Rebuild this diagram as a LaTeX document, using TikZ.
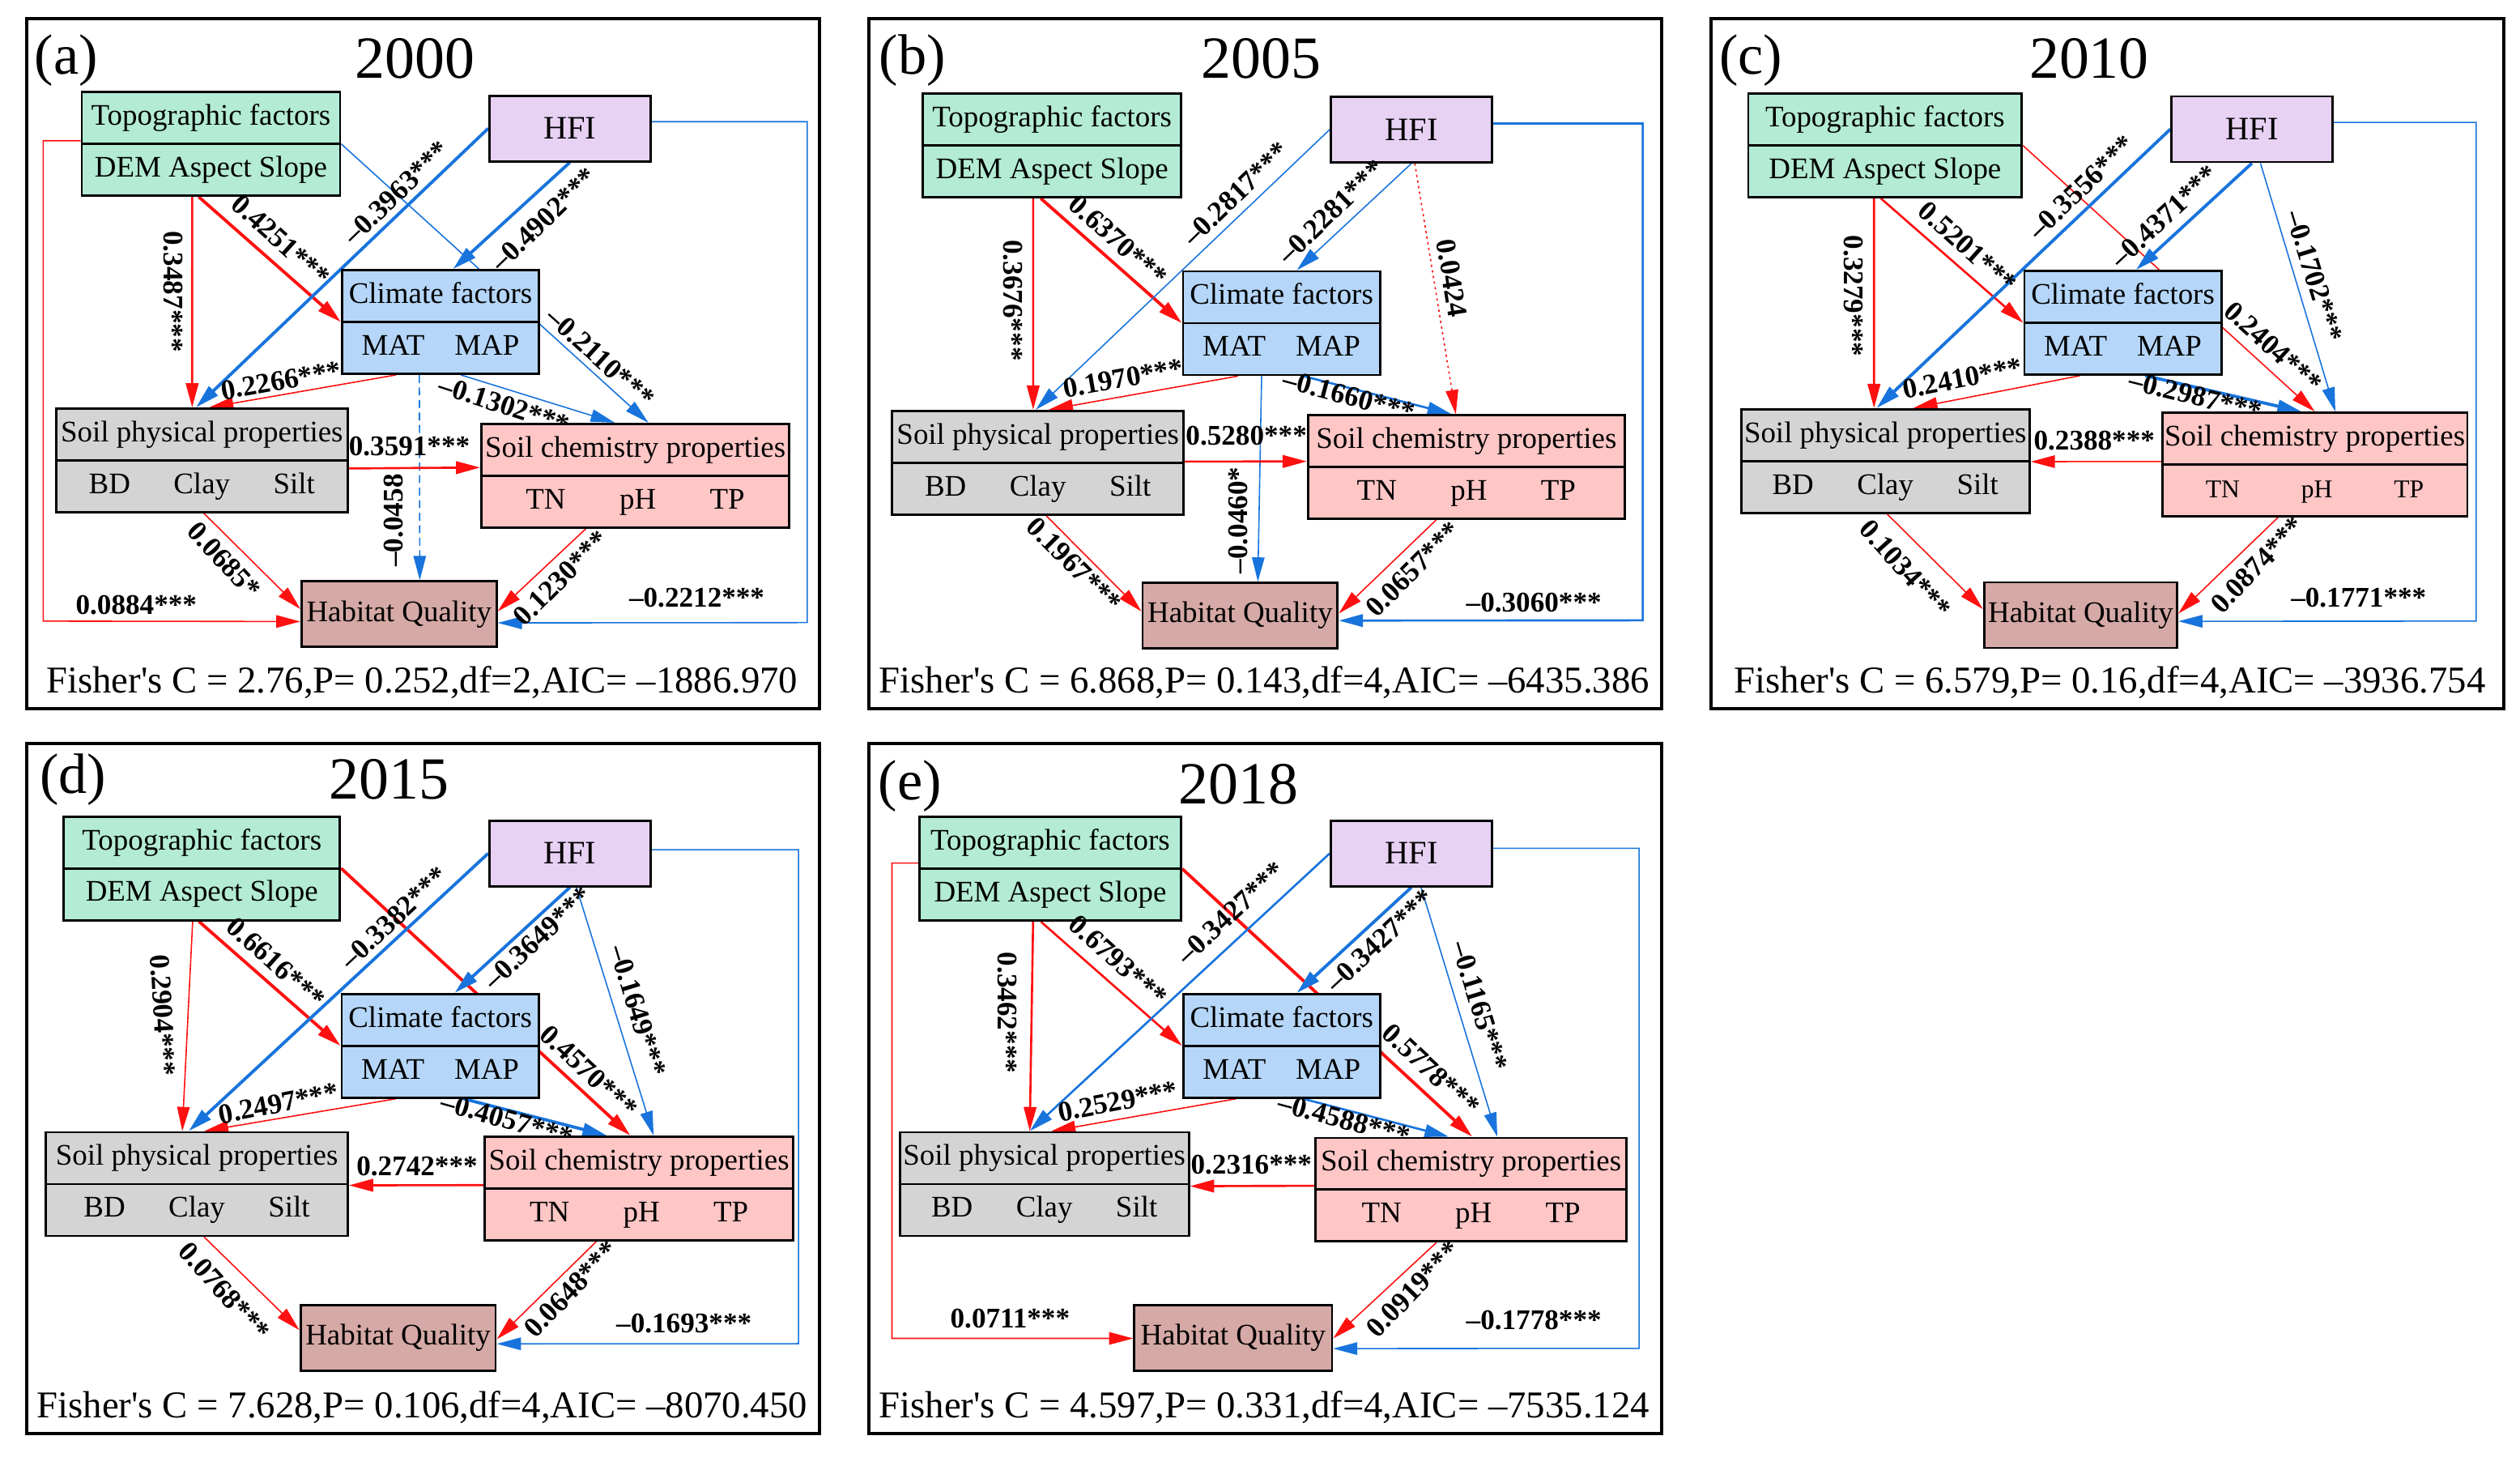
\documentclass[tikz,border=0pt]{standalone}
\usepackage{fontspec}
\setmainfont{Liberation Serif}
\usepackage{tikz}
\usetikzlibrary{arrows.meta, shapes.multipart, calc, backgrounds}
\definecolor{topofill}{HTML}{B3EBD5}
\definecolor{hfifill}{HTML}{E8D2F4}
\definecolor{climfill}{HTML}{B5D6F8}
\definecolor{physfill}{HTML}{D4D4D4}
\definecolor{chemfill}{HTML}{FFC6C6}
\definecolor{habfill}{HTML}{D5A9A6}
\definecolor{semred}{HTML}{FF1010}
\definecolor{semblue}{HTML}{1874DC}

\begin{document}
\begin{tikzpicture}[x=0.19847mm, y=-0.19847mm,
    twobox/.style={rectangle split, rectangle split parts=2, draw, line width=0.8pt,
      minimum width=#1, inner xsep=0pt, inner ysep=2.4pt, font=\fontsize{10.5}{12.6}\selectfont},
    onebox/.style={draw, line width=0.8pt, minimum width=#1, minimum height=8.1mm, inner sep=0pt},
    topobox/.style={twobox=#1, fill=topofill},
    climbox/.style={twobox=24.33mm, fill=climfill},
    physbox/.style={twobox=#1, fill=physfill},
    chembox/.style={twobox=#1, fill=chemfill},
    hfibox/.style={onebox=19.9mm, fill=hfifill, font=\fontsize{11.5}{13}\selectfont},
    habbox/.style={onebox=#1, fill=habfill, font=\fontsize{10.5}{12.6}\selectfont},
    panelframe/.style={draw, line width=1.1pt},
    tag/.style={font=\fontsize{20}{24}\selectfont},
    year/.style={font=\fontsize{21}{25}\selectfont},
    fisher/.style={font=\fontsize{13.3}{16}\selectfont},
    coef/.style={font=\fontsize{10}{12}\selectfont\bfseries, inner sep=0pt},
    semtip/.style={-{Triangle[length=8.5pt,width=4.4pt]}},
    redthin/.style={semtip, semred, line width=0.45pt},
    redmid/.style={semtip, semred, line width=0.75pt},
    redthick/.style={semtip, semred, line width=1.1pt},
    bluethin/.style={semtip, semblue, line width=0.45pt},
    bluemid/.style={semtip, semblue, line width=0.75pt},
    bluethick/.style={semtip, semblue, line width=1.1pt}]
\useasboundingbox (0,0) rectangle (1568,914);

\begin{scope}[shift={(16.6,11.4)}]
    \draw[panelframe] (0,0) rectangle (493.5,429.5);
    \node[tag] (tagA) at (24.7,26.3) {(a)};
    \node[year] (yearA) at (241.6,25) {2000};
    \node[topobox=31.89mm] (topoA) at (114.65,78.1) {\strut Topographic factors\nodepart{two}\strut DEM Aspect Slope};
    \node[hfibox] (hfiA) at (338,68.5) {HFI};
    \node[climbox] (climA) at (257.5,188.9) {\strut Climate factors\nodepart{two}\strut MAT\quad MAP};
    \node[physbox=36.02mm] (physA) at (109,275) {\strut Soil physical properties\nodepart{two}\strut BD\hspace{1.45em}Clay\hspace{1.45em}Silt};
    \node[chembox=38.03mm] (chemA) at (378.7,284.5) {\strut Soil chemistry properties\nodepart{two}\strut TN\hspace{1.8em}pH\hspace{1.8em}TP};
    \node[habbox=24.09mm] (habA) at (231.7,370.6) {Habitat Quality};
    \node[fisher] (fishA) at (246.1,413.2) {Fisher\textquotesingle s C = 2.76,P= 0.252,df=2,AIC= –1886.970};
    \coordinate (bendA1) at (485.7,375.9);
    \coordinate (bendA2) at (10.3,375);
    \begin{pgfonlayer}{background}
        \draw[redmid] ($(topoA.south west)!.428!(topoA.south east)$) -- ($(physA.north west)!.467!(physA.north east)$);
        \draw[redthick] ($(topoA.south west)!.453!(topoA.south east)$) -- (climA.west);
        \draw[bluethin] (topoA.east) -- ($(chemA.north west)!.542!(chemA.north east)$);
        \draw[bluethick] (hfiA.south) -- ($(climA.north west)!.563!(climA.north east)$);
        \draw[bluethick] (hfiA.west) -- ($(physA.north west)!.48!(physA.north east)$);
        \draw[redthin] ($(climA.south west)!.277!(climA.south east)$) -- ($(physA.north west)!.525!(physA.north east)$);
        \draw[bluethin] ($(climA.south west)!.602!(climA.south east)$) -- ($(chemA.north west)!.434!(chemA.north east)$);
        \draw[bluethin, dash pattern=on 2.8pt off 1.6pt] ($(climA.south west)!.394!(climA.south east)$) -- ($(habA.north west)!.605!(habA.north east)$);
        \draw[redmid] ($(physA.north east)!.576!(physA.south east)$) -- ($(chemA.north west)!.423!(chemA.south west)$);
        \draw[redthin] ($(physA.south west)!.507!(physA.south east)$) -- ($(habA.north west)!.426!(habA.south west)$);
        \draw[redthin] ($(chemA.south west)!.341!(chemA.south east)$) -- ($(habA.north east)!.46!(habA.south east)$);
        \draw[bluethin] ($(hfiA.north east)!.4!(hfiA.south east)$) -| (bendA1) -- ($(habA.north east)!.63!(habA.south east)$);
        \draw[redthin] ($(topoA.north west)!.47!(topoA.south west)$) -| (bendA2) -- ($(habA.north west)!.61!(habA.south west)$);
    \end{pgfonlayer}
    \node[coef, rotate=-90] (lA1) at (91.2,170) {0.3487***};
    \node[coef, rotate=-42] (lA2) at (158.3,138.2) {0.4251***};
    \node[coef, rotate=-42] (lA3) at (357,211) {–0.2110***};
    \node[coef, rotate=44] (lA4) at (321.8,125) {–0.4902***};
    \node[coef, rotate=44] (lA5) at (230.1,108.4) {–0.3963***};
    \node[coef, rotate=10] (lA6) at (158.3,225.3) {0.2266***};
    \node[coef, rotate=-18] (lA7) at (297.2,240.5) {–0.1302***};
    \node[coef, rotate=90] (lA8) at (228.5,312.3) {–0.0458};
    \node[coef] (lA9) at (238.1,266.2) {0.3591***};
    \node[coef, rotate=-47] (lA10) at (123.1,337.2) {0.0685*};
    \node[coef, rotate=45] (lA11) at (332.4,348.2) {0.1230***};
    \node[coef] (lA12) at (417,360.7) {–0.2212***};
    \node[coef] (lA13) at (68.2,364.8) {0.0884***};
\end{scope}

\begin{scope}[shift={(540.6,11.4)}]
    \draw[panelframe] (0,0) rectangle (493.5,429.5);
    \node[tag] (tagB) at (27.2,26.3) {(b)};
    \node[year] (yearB) at (244,25) {2005};
    \node[topobox=31.89mm] (topoB) at (114,79.1) {\strut Topographic factors\nodepart{two}\strut DEM Aspect Slope};
    \node[hfibox] (hfiB) at (337.6,69.2) {HFI};
    \node[climbox] (climB) at (256.8,189.6) {\strut Climate factors\nodepart{two}\strut MAT\quad MAP};
    \node[physbox=36.02mm] (physB) at (105.2,276.4) {\strut Soil physical properties\nodepart{two}\strut BD\hspace{1.45em}Clay\hspace{1.45em}Silt};
    \node[chembox=39.12mm] (chemB) at (371.8,279.2) {\strut Soil chemistry properties\nodepart{two}\strut TN\hspace{1.8em}pH\hspace{1.8em}TP};
    \node[habbox=24.09mm] (habB) at (231,371.5) {Habitat Quality};
    \node[fisher] (fishB) at (246,413) {Fisher\textquotesingle s C = 6.868,P= 0.143,df=4,AIC= –6435.386};
    \coordinate (bendB1) at (481.5,374.5);
    \begin{pgfonlayer}{background}
        \draw[redmid] ($(topoB.south west)!.4275!(topoB.south east)$) -- ($(physB.north west)!.484!(physB.north east)$);
        \draw[redthick] ($(topoB.south west)!.457!(topoB.south east)$) -- (climB.west);
        \draw[bluethin] (hfiB.west) -- ($(physB.north west)!.493!(physB.north east)$);
        \draw[bluethin] (hfiB.south) -- ($(climB.north west)!.577!(climB.north east)$);
        \draw[redthin, dash pattern=on 0.8pt off 1.2pt] ($(hfiB.south west)!.521!(hfiB.south east)$) -- ($(chemB.north west)!.467!(chemB.north east)$);
        \draw[redthin] ($(climB.south west)!.282!(climB.south east)$) -- ($(physB.north west)!.537!(physB.north east)$);
        \draw[bluemid] ($(climB.south west)!.608!(climB.south east)$) -- ($(chemB.north west)!.454!(chemB.north east)$);
        \draw[bluethin] ($(climB.south west)!.40!(climB.south east)$) -- ($(habB.north west)!.59!(habB.north east)$);
        \draw[redmid] ($(physB.north east)!.49!(physB.south east)$) -- ($(chemB.north west)!.446!(chemB.south west)$);
        \draw[redthin] ($(physB.south west)!.528!(physB.south east)$) -- ($(habB.north west)!.44!(habB.south west)$);
        \draw[redthin] ($(chemB.south west)!.405!(chemB.south east)$) -- ($(habB.north east)!.47!(habB.south east)$);
        \draw[bluemid] ($(hfiB.north east)!.41!(hfiB.south east)$) -| (bendB1) -- ($(habB.north east)!.575!(habB.south east)$);
    \end{pgfonlayer}
    \node[coef, rotate=-90] (lB1) at (89.5,175.5) {0.3676***};
    \node[coef, rotate=-42] (lB2) at (155,138.2) {0.6370***};
    \node[coef, rotate=44] (lB3) at (228.5,109.2) {–0.2817***};
    \node[coef, rotate=44] (lB4) at (287.6,120.3) {–0.2281***};
    \node[coef, rotate=-81] (lB5) at (362.7,161.7) {0.0424};
    \node[coef, rotate=10] (lB6) at (158.2,223.9) {0.1970***};
    \node[coef, rotate=-15] (lB7) at (298.8,234.9) {–0.1660***};
    \node[coef, rotate=90] (lB8) at (230,312.3) {–0.0460*};
    \node[coef] (lB9) at (234.9,259.8) {0.5280***};
    \node[coef, rotate=-45] (lB10) at (127.8,340) {0.1967***};
    \node[coef, rotate=45] (lB11) at (338.7,342.7) {0.0657***};
    \node[coef] (lB12) at (413.8,363.4) {–0.3060***};
\end{scope}

\begin{scope}[shift={(1064.6,11.4)}]
    \draw[panelframe] (0,0) rectangle (493.5,429.5);
    \node[tag] (tagC) at (24.8,26.3) {(c)};
    \node[year] (yearC) at (235.3,25) {2010};
    \node[topobox=33.78mm] (topoC) at (108.3,79.1) {\strut Topographic factors\nodepart{two}\strut DEM Aspect Slope};
    \node[hfibox] (hfiC) at (336.6,69) {HFI};
    \node[climbox] (climC) at (256.3,189.4) {\strut Climate factors\nodepart{two}\strut MAT\quad MAP};
    \node[physbox=35.63mm] (physC) at (108.5,275.4) {\strut Soil physical properties\nodepart{two}\strut BD\hspace{1.45em}Clay\hspace{1.45em}Silt};
    \node[chembox=37.67mm] (chemC) at (375.7,277.6) {\strut Soil chemistry properties\nodepart{two}\strut{\fontsize{9}{11}\selectfont TN\hspace{2.4em}pH\hspace{2.4em}TP}};
    \node[habbox=23.86mm] (habC) at (230,371.3) {Habitat Quality};
    \node[fisher] (fishC) at (248.2,413) {Fisher\textquotesingle s C = 6.579,P= 0.16,df=4,AIC= –3936.754};
    \coordinate (bendC1) at (476.1,375);
    \begin{pgfonlayer}{background}
        \draw[redmid] ($(topoC.south west)!.46!(topoC.south east)$) -- ($(physC.north west)!.461!(physC.north east)$);
        \draw[redmid] ($(topoC.south west)!.485!(topoC.south east)$) -- (climC.west);
        \draw[redthin] (topoC.east) -- (chemC.north);
        \draw[bluethick] (hfiC.south) -- ($(climC.north west)!.566!(climC.north east)$);
        \draw[bluethick] (hfiC.west) -- ($(physC.north west)!.47!(physC.north east)$);
        \draw[bluethin] ($(hfiC.south west)!.552!(hfiC.south east)$) -- ($(chemC.north west)!.567!(chemC.north east)$);
        \draw[redthin] ($(climC.south west)!.284!(climC.south east)$) -- ($(physC.north west)!.596!(physC.north east)$);
        \draw[bluethick] ($(climC.south west)!.613!(climC.south east)$) -- ($(chemC.north west)!.457!(chemC.north east)$);
        \draw[redthin] ($(chemC.north west)!.471!(chemC.south west)$) -- ($(physC.north east)!.506!(physC.south east)$);
        \draw[redthin] ($(physC.south west)!.506!(physC.south east)$) -- ($(habC.north west)!.41!(habC.south west)$);
        \draw[redthin] ($(chemC.south west)!.38!(chemC.south east)$) -- ($(habC.north east)!.475!(habC.south east)$);
        \draw[bluethin] ($(hfiC.north east)!.4!(hfiC.south east)$) -| (bendC1) -- ($(habC.north east)!.59!(habC.south east)$);
    \end{pgfonlayer}
    \node[coef, rotate=-90] (lC1) at (88.6,172.8) {0.3279***};
    \node[coef, rotate=-42] (lC2) at (159.6,142.4) {0.5201***};
    \node[coef, rotate=-42] (lC3) at (349.8,204.5) {0.2404***};
    \node[coef, rotate=43] (lC4) at (282.1,123) {–0.4371***};
    \node[coef, rotate=44] (lC5) at (230.5,105.1) {–0.3556***};
    \node[coef, rotate=-73] (lC6) at (375.5,160.3) {–0.1702***};
    \node[coef, rotate=11] (lC7) at (156.3,223.9) {0.2410***};
    \node[coef, rotate=-14] (lC8) at (301.4,234.9) {–0.2987***};
    \node[coef] (lC9) at (238.5,262.6) {0.2388***};
    \node[coef, rotate=-48] (lC10) at (120.9,342.7) {0.1034***};
    \node[coef, rotate=46] (lC11) at (340.1,340) {0.0874***};
    \node[coef] (lC12) at (403,360.7) {–0.1771***};
\end{scope}

\begin{scope}[shift={(16.6,462.4)}]
    \draw[panelframe] (0,0) rectangle (493.5,429.5);
    \node[tag] (tagD) at (28.9,22.6) {(d)};
    \node[year] (yearD) at (225.3,22.6) {2015};
    \node[topobox=34.12mm] (topoD) at (109,77.8) {\strut Topographic factors\nodepart{two}\strut DEM Aspect Slope};
    \node[hfibox] (hfiD) at (338,68.5) {HFI};
    \node[climbox] (climD) at (257.3,188.2) {\strut Climate factors\nodepart{two}\strut MAT\quad MAP};
    \node[physbox=37.29mm] (physD) at (105.9,274.2) {\strut Soil physical properties\nodepart{two}\strut BD\hspace{1.45em}Clay\hspace{1.45em}Silt};
    \node[chembox=38.05mm] (chemD) at (381,276.9) {\strut Soil chemistry properties\nodepart{two}\strut TN\hspace{1.8em}pH\hspace{1.8em}TP};
    \node[habbox=24.09mm] (habD) at (231.1,369.8) {Habitat Quality};
    \node[fisher] (fishD) at (246.1,413) {Fisher\textquotesingle s C = 7.628,P= 0.106,df=4,AIC= –8070.450};
    \coordinate (bendD1) at (480.3,373.5);
    \begin{pgfonlayer}{background}
        \draw[redthin] ($(topoD.south west)!.467!(topoD.south east)$) -- ($(physD.north west)!.452!(physD.north east)$);
        \draw[redthick] ($(topoD.south west)!.489!(topoD.south east)$) -- (climD.west);
        \draw[redthick] (topoD.east) -- ($(chemD.north west)!.472!(chemD.north east)$);
        \draw[bluethick] (hfiD.south) -- ($(climD.north west)!.573!(climD.north east)$);
        \draw[bluethick] (hfiD.west) -- ($(physD.north west)!.473!(physD.north east)$);
        \draw[bluethin] ($(hfiD.south west)!.54!(hfiD.south east)$) -- ($(chemD.north west)!.547!(chemD.north east)$);
        \draw[redthin] ($(climD.south west)!.278!(climD.south east)$) -- ($(physD.north west)!.524!(physD.north east)$);
        \draw[bluethick] ($(climD.south west)!.617!(climD.south east)$) -- ($(chemD.north west)!.396!(chemD.north east)$);
        \draw[redmid] ($(chemD.north west)!.469!(chemD.south west)$) -- ($(physD.north east)!.512!(physD.south east)$);
        \draw[redthin] ($(physD.south west)!.524!(physD.south east)$) -- ($(habD.north west)!.388!(habD.south west)$);
        \draw[redthin] ($(chemD.south west)!.363!(chemD.south east)$) -- ($(habD.north east)!.523!(habD.south east)$);
        \draw[bluethin] ($(hfiD.north east)!.446!(hfiD.south east)$) -| (bendD1) -- ($(habD.north east)!.59!(habD.south east)$);
    \end{pgfonlayer}
    \node[coef, rotate=-87] (lD1) at (84.8,169.2) {0.2904***};
    \node[coef, rotate=-42] (lD2) at (155,136.7) {0.6616***};
    \node[coef, rotate=-43] (lD3) at (349.9,204.4) {0.4570***};
    \node[coef, rotate=43] (lD4) at (318,121.2) {–0.3649***};
    \node[coef, rotate=43] (lD5) at (228.5,108.5) {–0.3382***};
    \node[coef, rotate=-73] (lD6) at (380.3,166.3) {–0.1649***};
    \node[coef, rotate=11] (lD7) at (156.7,224.1) {0.2497***};
    \node[coef, rotate=-16] (lD8) at (298.8,234) {–0.4057***};
    \node[coef] (lD9) at (242.9,263) {0.2742***};
    \node[coef, rotate=-48] (lD10) at (123.1,341.1) {0.0768***};
    \node[coef, rotate=46] (lD11) at (338.7,339.7) {0.0648***};
    \node[coef] (lD12) at (409,360.9) {–0.1693***};
\end{scope}

\begin{scope}[shift={(540.6,462.4)}]
    \draw[panelframe] (0,0) rectangle (493.5,429.5);
    \node[tag] (tagE) at (25.6,26.8) {(e)};
    \node[year] (yearE) at (230.1,25.4) {2018};
    \node[topobox=32.33mm] (topoE) at (112.9,78.1) {\strut Topographic factors\nodepart{two}\strut DEM Aspect Slope};
    \node[hfibox] (hfiE) at (337.6,68.5) {HFI};
    \node[climbox] (climE) at (256.9,188.2) {\strut Climate factors\nodepart{two}\strut MAT\quad MAP};
    \node[physbox=35.70mm] (physE) at (109.2,274.2) {\strut Soil physical properties\nodepart{two}\strut BD\hspace{1.45em}Clay\hspace{1.45em}Silt};
    \node[chembox=38.36mm] (chemE) at (374.7,277.7) {\strut Soil chemistry properties\nodepart{two}\strut TN\hspace{1.8em}pH\hspace{1.8em}TP};
    \node[habbox=24.41mm] (habE) at (226.7,369.8) {Habitat Quality};
    \node[fisher] (fishE) at (246,413) {Fisher\textquotesingle s C = 4.597,P= 0.331,df=4,AIC= –7535.124};
    \coordinate (bendE1) at (479.3,376.4);
    \coordinate (bendE2) at (14.4,370.2);
    \begin{pgfonlayer}{background}
        \draw[redmid] ($(topoE.south west)!.435!(topoE.south east)$) -- ($(physE.north west)!.45!(physE.north east)$);
        \draw[redmid] ($(topoE.south west)!.465!(topoE.south east)$) -- (climE.west);
        \draw[redthick] (topoE.east) -- ($(chemE.north west)!.504!(chemE.north east)$);
        \draw[bluethick] (hfiE.south) -- ($(climE.north west)!.576!(climE.north east)$);
        \draw[bluemid] (hfiE.west) -- ($(physE.north west)!.45!(physE.north east)$);
        \draw[bluethin] ($(hfiE.south west)!.559!(hfiE.south east)$) -- ($(chemE.north west)!.584!(chemE.north east)$);
        \draw[redthin] ($(climE.south west)!.272!(climE.south east)$) -- ($(physE.north west)!.524!(physE.north east)$);
        \draw[bluemid] ($(climE.south west)!.607!(climE.south east)$) -- ($(chemE.north west)!.429!(chemE.north east)$);
        \draw[redmid] ($(chemE.north west)!.463!(chemE.south west)$) -- ($(physE.north east)!.52!(physE.south east)$);
        \draw[redthin] ($(chemE.south west)!.389!(chemE.south east)$) -- ($(habE.north east)!.51!(habE.south east)$);
        \draw[redthin] ($(topoE.north west)!.445!(topoE.south west)$) -| (bendE2) -- ($(habE.north west)!.51!(habE.south west)$);
        \draw[bluethin] ($(hfiE.north east)!.424!(hfiE.south east)$) -| (bendE1) -- ($(habE.north east)!.66!(habE.south east)$);
    \end{pgfonlayer}
    \node[coef, rotate=-90] (lE1) at (86.3,167.7) {0.3462***};
    \node[coef, rotate=-42] (lE2) at (155,135.3) {0.6793***};
    \node[coef, rotate=-43] (lE3) at (349.9,203) {0.5778***};
    \node[coef, rotate=43] (lE4) at (318,122.6) {–0.3427***};
    \node[coef, rotate=43] (lE5) at (225.3,105.7) {–0.3427***};
    \node[coef, rotate=-73] (lE6) at (380.2,163.5) {–0.1165***};
    \node[coef, rotate=11] (lE7) at (155,222.7) {0.2529***};
    \node[coef, rotate=-15] (lE8) at (295.6,234) {–0.4588***};
    \node[coef] (lE9) at (238,262.2) {0.2316***};
    \node[coef, rotate=46] (lE10) at (338.7,339.7) {0.0919***};
    \node[coef] (lE11) at (87.9,358) {0.0711***};
    \node[coef] (lE12) at (413.8,358.9) {–0.1778***};
\end{scope}
\end{tikzpicture}
\end{document}
